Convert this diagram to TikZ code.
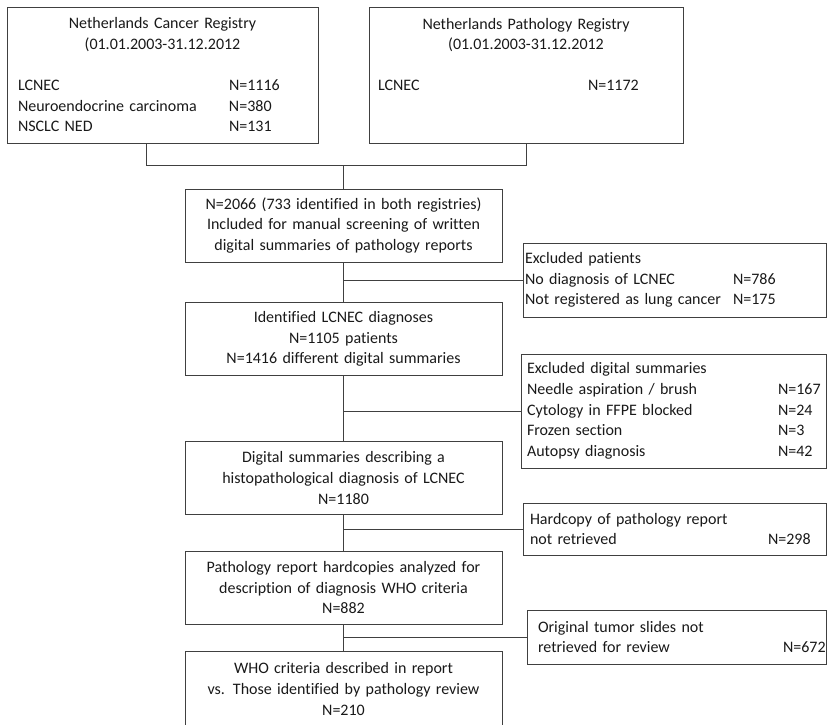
\documentclass[tikz,border=0pt]{standalone}
\usepackage{fontspec}
\setmainfont{Carlito}[Ligatures=CommonOff]
\usepackage{tikz}

\begin{document}
\begin{tikzpicture}[x=1pt,y=-1pt,line width=0.9pt,draw=black!75]
\tikzstyle{box}=[draw=black!75,line width=0.9pt,rectangle,inner sep=0pt,text=black!90,font=\fontsize{16}{20.6}\selectfont]
\tikzstyle{main}=[box,minimum width=317pt,minimum height=73pt,text width=311pt,align=center]
\tikzstyle{excl}=[box,align=left]
\useasboundingbox (0,0) rectangle (827,725);

% registries
\node[box,align=left,minimum width=311pt,minimum height=136pt,text width=289pt,inner xsep=11pt] (NCR) at (162.5,75)
 {\makebox[289pt]{Netherlands Cancer Registry}\\
  \makebox[289pt]{(01.01.2003-31.12.2012}\\
  \mbox{}\\
  \makebox[211pt][l]{LCNEC}N=1116\\
  \makebox[211pt][l]{Neuroendocrine carcinoma}N=380\\
  \makebox[211pt][l]{NSCLC NED}N=131};
\node[box,align=left,minimum width=314pt,minimum height=136pt,text width=296pt,inner xsep=9pt] (NPR) at (526,75)
 {\makebox[296pt]{Netherlands Pathology Registry}\\
  \makebox[296pt]{(01.01.2003-31.12.2012}\\
  \mbox{}\\
  \makebox[210pt][l]{LCNEC}N=1172\\
  \mbox{}\\
  \mbox{}};

% main flow
\node[main] (screen) at (343.5,225.5) {N=2066 (733 identified in both registries)\\
 Included for manual screening of written\\ digital summaries of pathology reports};
\node[main] (ident) at (343.5,339) {Identified LCNEC diagnoses\\ N=1105 patients\\
 N=1416 different digital summaries};
\node[main] (histo) at (343.5,478) {Digital summaries describing a\\
 histopathological diagnosis of LCNEC\\ N=1180};
\node[main] (hard) at (343.5,587.5) {Pathology report hardcopies analyzed for\\
 description of diagnosis WHO criteria\\ N=882};
\node[main,minimum height=76pt] (review) at (343.5,689) {WHO criteria described in report\\
 vs. Those identified by pathology review\\ N=210};

% exclusions
\node[excl,minimum width=303pt,minimum height=74pt,text width=299pt,inner xsep=2pt] (exPat) at (674.5,280)
 {Excluded patients\\
  \makebox[208pt][l]{No diagnosis of LCNEC}N=786\\
  \makebox[208pt][l]{Not registered as lung cancer}N=175};
\node[excl,minimum width=305pt,minimum height=114pt,text width=293pt,inner xsep=6pt] (exSum) at (673.5,411)
 {Excluded digital summaries\\
  \makebox[251pt][l]{Needle aspiration / brush}N=167\\
  \makebox[251pt][l]{Cytology in FFPE blocked}N=24\\
  \makebox[251pt][l]{Frozen section}N=3\\
  \makebox[251pt][l]{Autopsy diagnosis}N=42};
\node[excl,minimum width=303pt,minimum height=52pt,text width=289pt,inner xsep=7pt] (exHard) at (674.5,529)
 {Hardcopy of pathology report\\
  \makebox[238pt][l]{not retrieved}N=298};
\node[excl,minimum width=299pt,minimum height=54pt,text width=277pt,inner xsep=11pt] (exSlide) at (676.5,637)
 {Original tumor slides not\\
  \makebox[245pt][l]{retrieved for review}N=672};

% connectors
\coordinate (join) at (343.5,165);
\coordinate (lj) at (146,165);
\draw (NCR.south -| lj) -- (lj) -- (join -| NPR.south) -- (NPR.south);
\draw (join) -- (screen.north);
\draw (screen.south) -- (ident.north);
\draw (screen.south |- exPat.west) -- (exPat.west);
\draw (ident.south) -- (histo.north);
\draw (ident.south |- exSum.west) -- (exSum.west);
\draw (histo.south) -- (hard.north);
\draw (histo.south |- exHard.west) -- (exHard.west);
\draw (hard.south) -- (review.north);
\draw (hard.south |- exSlide.west) -- (exSlide.west);
\end{tikzpicture}
\end{document}
